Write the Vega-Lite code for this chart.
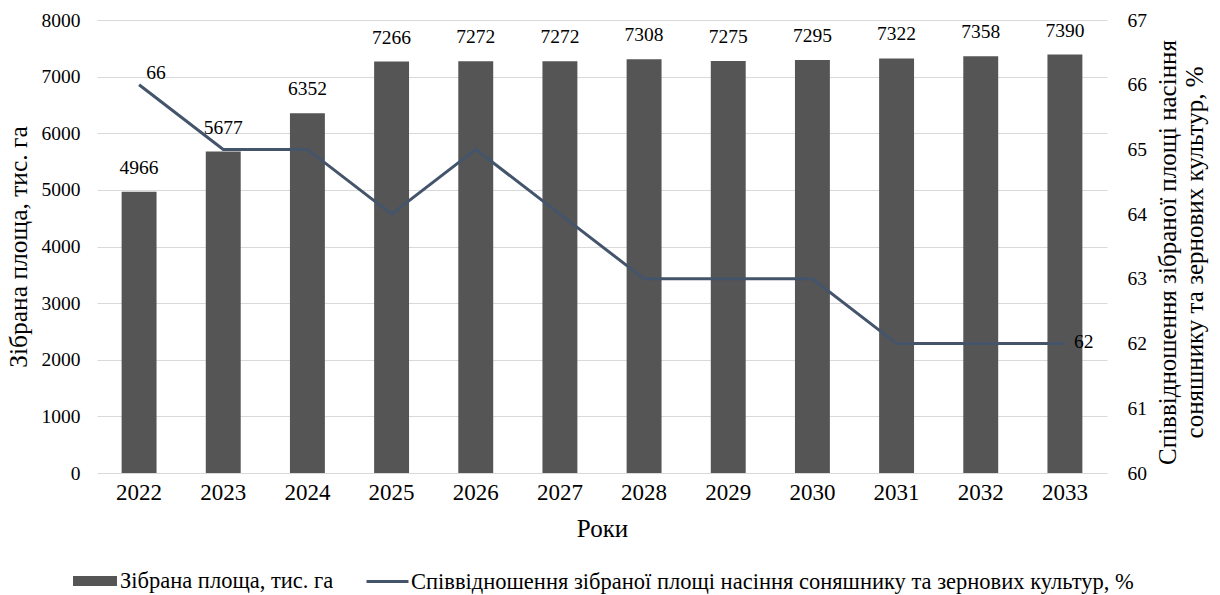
{
  "$schema": "https://vega.github.io/schema/vega-lite/v6.json",
  "width": 1010,
  "height": 453,
  "autosize": {"type": "none"},
  "padding": {"left": 97, "top": 20, "right": 113, "bottom": 122},
  "background": "white",
  "config": {
    "font": "Liberation Serif",
    "view": {"stroke": null},
    "axis": {"labelFont": "Liberation Serif", "titleFont": "Liberation Serif", "labelColor": "#000", "titleColor": "#000", "titleFontWeight": "normal"},
    "legend": {"labelFont": "Liberation Serif", "labelColor": "#000", "padding": 0, "labelLimit": 2000}
  },
  "data": {
    "values": [
      {"year": "2022", "area": 4966, "ratio": 66},
      {"year": "2023", "area": 5677, "ratio": 65},
      {"year": "2024", "area": 6352, "ratio": 65},
      {"year": "2025", "area": 7266, "ratio": 64},
      {"year": "2026", "area": 7272, "ratio": 65},
      {"year": "2027", "area": 7272, "ratio": 64},
      {"year": "2028", "area": 7308, "ratio": 63},
      {"year": "2029", "area": 7275, "ratio": 63},
      {"year": "2030", "area": 7295, "ratio": 63},
      {"year": "2031", "area": 7322, "ratio": 62},
      {"year": "2032", "area": 7358, "ratio": 62},
      {"year": "2033", "area": 7390, "ratio": 62}
    ]
  },
  "encoding": {
    "x": {
      "field": "year", "type": "nominal",
      "scale": {"paddingInner": 0, "paddingOuter": 0},
      "axis": {"title": "Роки", "titleFont": "Liberation Serif", "titleFontSize": 25, "titlePadding": 12, "labelFont": "Liberation Serif", "labelFontSize": 23, "labelPadding": 8, "labelAngle": 0, "ticks": false, "domain": false}
    }
  },
  "layer": [
    {
      "layer": [
        {
          "mark": {"type": "bar", "width": {"band": 0.415}},
          "encoding": {
            "y": {"field": "area", "type": "quantitative", "scale": {"domain": [0, 8000]},
              "axis": {"title": "Зібрана площа, тис. га", "titleFont": "Liberation Serif", "titleFontSize": 25.5, "titlePadding": 10, "labelFont": "Liberation Serif", "labelFontSize": 19.5, "labelPadding": 17, "format": "d", "values": [0,1000,2000,3000,4000,5000,6000,7000,8000], "grid": true, "gridColor": "#d9d9d9", "gridWidth": 1.2, "ticks": false, "domain": false}},
            "fill": {"datum": "Зібрана площа, тис. га", "scale": {"range": ["#555555"]},
              "legend": {"title": null, "orient": "none", "legendX": -24, "legendY": 539, "symbolType": "M-1,-0.23H1V0.23H-1Z", "symbolSize": 1936, "symbolStrokeWidth": 0, "labelFontSize": 22.5, "labelOffset": 3}}
          }
        },
        {
          "mark": {"type": "text", "dy": -14, "fontSize": 19.5, "font": "Liberation Serif", "color": "#000", "baseline": "bottom"},
          "encoding": {
            "y": {"field": "area", "type": "quantitative"},
            "text": {"field": "area", "type": "quantitative", "format": "d"}
          }
        }
      ]
    },
    {
      "layer": [
        {
          "mark": {"type": "line", "strokeWidth": 3},
          "encoding": {
            "y": {"field": "ratio", "type": "quantitative", "scale": {"domain": [60, 67]},
              "axis": {"orient": "right", "title": ["Співвідношення зібраної площі насіння", "соняшнику та зернових культур, %"], "titleFont": "Liberation Serif", "titleFontSize": 25, "titleAngle": 270, "titleBaseline": "top", "titleAlign": "center", "titleX": 48, "titleY": 232, "titleLineHeight": 27, "labelFont": "Liberation Serif", "labelFontSize": 19.5, "labelPadding": 20, "format": "d", "values": [60,61,62,63,64,65,66,67], "grid": false, "ticks": false, "domain": false}},
            "stroke": {"datum": "Співвідношення зібраної площі насіння соняшнику та зернових культур, %", "scale": {"range": ["#44546A"]},
              "legend": {"title": null, "orient": "none", "legendX": 268, "legendY": 539, "symbolType": "stroke", "symbolSize": 1764, "symbolStrokeWidth": 3, "labelFontSize": 22.5, "labelOffset": 1}}
          }
        },
        {
          "transform": [{"filter": "datum.year == '2022'"}],
          "mark": {"type": "text", "dx": 17, "dy": -12, "fontSize": 19.5, "font": "Liberation Serif", "color": "#000"},
          "encoding": {
            "y": {"field": "ratio", "type": "quantitative"},
            "text": {"field": "ratio", "type": "quantitative"}
          }
        },
        {
          "transform": [{"filter": "datum.year == '2033'"}],
          "mark": {"type": "text", "dx": 9, "dy": -2, "align": "left", "fontSize": 19.5, "font": "Liberation Serif", "color": "#000"},
          "encoding": {
            "y": {"field": "ratio", "type": "quantitative"},
            "text": {"field": "ratio", "type": "quantitative"}
          }
        }
      ]
    }
  ],
  "resolve": {"scale": {"y": "independent", "fill": "independent", "stroke": "independent"}}
}
